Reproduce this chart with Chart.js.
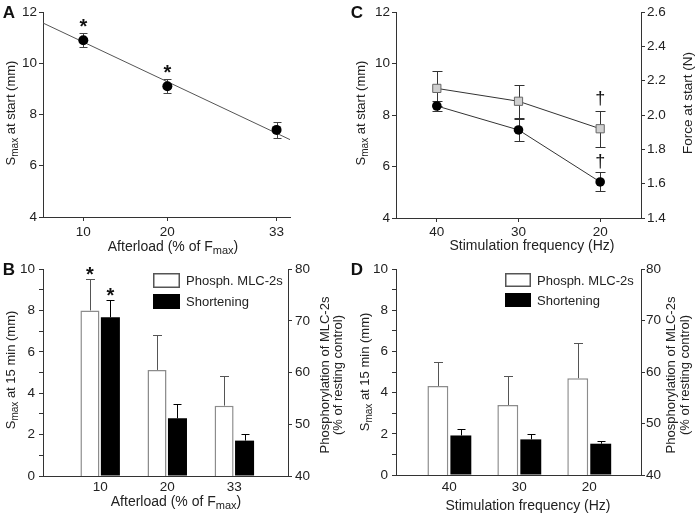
<!DOCTYPE html>
<html>
<head>
<meta charset="utf-8">
<script src="https://cdn.jsdelivr.net/npm/chart.js@4.4.0/dist/chart.umd.min.js"></script>
<style>
html, body { margin: 0; padding: 0; background: #fff; }
#fig { position: relative; width: 697px; height: 515px; overflow: hidden; }
canvas { position: absolute; }
</style>
</head>
<body>
<div id="fig">
  <canvas id="panelA" width="348" height="257" style="left:0;top:0"></canvas>
  <canvas id="panelC" width="349" height="257" style="left:348px;top:0"></canvas>
  <canvas id="panelB" width="348" height="258" style="left:0;top:257px"></canvas>
  <canvas id="panelD" width="349" height="258" style="left:348px;top:257px"></canvas>
</div>
<script>
// ---- data ----
// A: Smax at start vs afterload
var afterload = [10, 20, 33]
var smaxStart = [10.9, 9.1, 7.4]
var smaxStartErr = [0.27, 0.28, 0.3]
var smaxStartMarks = ['*', '*', null]
var fitX = [5.2, 34.6]
var fitY = [11.57, 7.02]

// B: after 15 min, by afterload
var afterloadLabels = ['10', '20', '33']
var phosphAfterload = [72.0, 60.5, 53.6]
var phosphAfterloadErr = [6.1, 6.7, 5.7]
var phosphAfterloadMarks = ['*', null, null]
var shortAfterload = [7.67, 2.79, 1.71]
var shortAfterloadErr = [0.86, 0.67, 0.3]
var shortAfterloadMarks = ['*', null, null]

// C: start values by stimulation frequency
var freqLabels = ['40', '30', '20']
var smaxFreq = [8.35, 7.42, 5.4]
var smaxFreqErr = [0.2, 0.43, 0.37]
var forceFreq = [2.155, 2.08, 1.92]
var forceFreqErr = [0.1, 0.095, 0.105]
var freqMarks = [null, null, '\u2020']

// D: after 15 min, by stimulation frequency
var phosphFreq = [57.3, 53.6, 58.8]
var phosphFreqErr = [4.6, 5.7, 6.8]
var shortFreq = [1.92, 1.73, 1.52]
var shortFreqErr = [0.32, 0.27, 0.14]

// tick values
var startTicks = [4, 6, 8, 10, 12]
var forceTicks = [1.4, 1.6, 1.8, 2.0, 2.2, 2.4, 2.6]
var smax15Ticks = [0, 1, 2, 3, 4, 5, 6, 7, 8, 9, 10]
var phosphTicks = [40, 50, 60, 70, 80]

var FONT = "'Liberation Sans', Arial, Helvetica, sans-serif"
var INK = '#222'

Chart.defaults.font.family = FONT
Chart.defaults.font.size = 13.5
Chart.defaults.color = INK

// ---- helpers ----
function fixSize(w, h) {
    return function (scale) {
        if (w != null) scale.width = w
        if (h != null) scale.height = h
    }
}

function useTicks(values) {
    return function (scale) {
        scale.ticks = values.map(function (v) { return { value: v } })
    }
}

function axis(extra) {
    var base = {
        grid: { display: true, drawOnChartArea: false, drawTicks: true, tickLength: 4, color: '#333', lineWidth: 1 },
        border: { display: true, color: '#333', width: 1 },
        ticks: { padding: 2, autoSkip: false, maxRotation: 0 }
    }
    for (var k in extra) {
        if (k === 'grid' || k === 'ticks' || k === 'border') Object.assign(base[k], extra[k])
        else base[k] = extra[k]
    }
    return base
}

function valueOf(d) {
    return (d !== null && typeof d === 'object') ? d.y : d
}

function drawRich(ctx, parts, cx, cy, rot, size) {
    size = size || 13.5
    var sub = Math.round(size * 0.75)
    ctx.save()
    ctx.translate(cx, cy)
    if (rot) ctx.rotate(-Math.PI / 2)
    ctx.fillStyle = INK
    ctx.textAlign = 'left'
    ctx.textBaseline = 'alphabetic'
    var total = 0
    parts.forEach(function (p) {
        ctx.font = (p[1] ? sub : size) + 'px ' + FONT
        total += ctx.measureText(p[0]).width
    })
    var x = -total / 2
    parts.forEach(function (p) {
        ctx.font = (p[1] ? sub : size) + 'px ' + FONT
        ctx.fillText(p[0], x, p[1] ? 8 : 5)
        x += ctx.measureText(p[0]).width
    })
    ctx.restore()
}

function drawCentered(ctx, s, font, x, y) {
    ctx.save()
    ctx.font = font
    ctx.fillStyle = '#111'
    ctx.textAlign = 'center'
    ctx.textBaseline = 'alphabetic'
    var m = ctx.measureText(s)
    ctx.fillText(s, x, y + (m.actualBoundingBoxAscent - m.actualBoundingBoxDescent) / 2)
    ctx.restore()
}

// error bars, significance marks, titles, legend, panel letter
var panelDeco = {
    id: 'panelDeco',
    beforeDatasetsDraw: function (chart) {
        var ctx = chart.ctx
        chart.data.datasets.forEach(function (ds, i) {
            if (!ds.errors) return
            var meta = chart.getDatasetMeta(i)
            var ys = chart.scales[meta.yAxisID]
            ctx.save()
            ctx.strokeStyle = ds.errColor || '#333'
            ctx.lineWidth = 1
            meta.data.forEach(function (el, j) {
                var v = valueOf(ds.data[j])
                var top = Math.round(ys.getPixelForValue(v + ds.errors[j])) + 0.5
                var bot = ds.errBoth ? Math.round(ys.getPixelForValue(v - ds.errors[j])) + 0.5 : ys.getPixelForValue(v)
                var x = Math.round(el.x) + 0.5
                ctx.beginPath()
                ctx.moveTo(x, bot)
                ctx.lineTo(x, top)
                ctx.moveTo(x - ds.capHalf, top)
                ctx.lineTo(x + ds.capHalf, top)
                if (ds.errBoth) {
                    ctx.moveTo(x - ds.capHalf, bot)
                    ctx.lineTo(x + ds.capHalf, bot)
                }
                ctx.stroke()
            })
            ctx.restore()
        })
    },
    afterDraw: function (chart, args, opts) {
        var ctx = chart.ctx
        chart.data.datasets.forEach(function (ds, i) {
            if (!ds.marks) return
            var meta = chart.getDatasetMeta(i)
            var ys = chart.scales[meta.yAxisID]
            meta.data.forEach(function (el, j) {
                if (!ds.marks[j]) return
                var top = ys.getPixelForValue(valueOf(ds.data[j]) + ds.errors[j])
                drawCentered(ctx, ds.marks[j], ds.markFont, el.x, top - ds.markGap)
            })
        })
        ;(opts.texts || []).forEach(function (t) {
            drawRich(ctx, t.parts, t.x, t.y, t.rot, t.size)
        })
        if (opts.legend) {
            var lg = opts.legend
            lg.items.forEach(function (it, k) {
                var y = lg.y + k * lg.step
                ctx.save()
                if (it.filled) {
                    ctx.fillStyle = '#000'
                    ctx.fillRect(lg.x, y, lg.w, lg.h)
                } else {
                    ctx.strokeStyle = '#555'
                    ctx.lineWidth = 1.5
                    ctx.strokeRect(lg.x + 0.75, y + 0.75, lg.w - 1.5, lg.h - 1.5)
                }
                ctx.font = '13px ' + FONT
                ctx.fillStyle = INK
                ctx.textBaseline = 'middle'
                ctx.textAlign = 'left'
                ctx.fillText(it.text, lg.x + lg.w + 6, y + lg.h / 2 + 1)
                ctx.restore()
            })
        }
        if (opts.letter) {
            drawCentered(ctx, opts.letter[0], 'bold 17px ' + FONT, opts.letter[1], opts.letter[2])
        }
    }
}

var SMAX = [['S'], ['max', true]]
var AFTERLOAD_TITLE = [['Afterload (% of F'], ['max', true], [')']]

function baseOptions(padding, deco) {
    return {
        responsive: false,
        animation: false,
        devicePixelRatio: 1,
        layout: { padding: padding },
        plugins: { legend: { display: false }, tooltip: { enabled: false }, panelDeco: deco },
        events: []
    }
}

// ---- A ----
var optsA = baseOptions({ top: 12, right: 58, left: 0, bottom: 0 }, {
    letter: ['A', 9, 12],
    texts: [
        { parts: SMAX.concat([[' at start (mm)']]), x: 10, y: 113, rot: true, size: 13 },
        { parts: AFTERLOAD_TITLE, x: 173, y: 246, size: 14 }
    ]
})
optsA.scales = {
    x: axis({ type: 'linear', min: 5.2, max: 34.6, afterBuildTicks: useTicks(afterload), afterFit: fixSize(null, 40), ticks: { padding: 3 } }),
    y: axis({ type: 'linear', min: 4, max: 12, afterBuildTicks: useTicks(startTicks), afterFit: fixSize(43, null) })
}
new Chart('panelA', {
    type: 'scatter',
    data: {
        datasets: [{
            data: afterload.map(function (x, i) { return { x: x, y: smaxStart[i] } }),
            backgroundColor: '#000', borderColor: '#000', pointRadius: 5, pointBorderWidth: 0,
            errors: smaxStartErr, errBoth: true, capHalf: 4, errColor: '#444',
            marks: smaxStartMarks, markGap: 10, markFont: 'bold 20px ' + FONT
        }, {
            data: fitX.map(function (x, i) { return { x: x, y: fitY[i] } }),
            showLine: true, borderColor: '#555', borderWidth: 1, pointRadius: 0
        }]
    },
    options: optsA,
    plugins: [panelDeco]
})

// ---- C ----
var optsC = baseOptions({ top: 12, right: 0, left: 0, bottom: 0 }, {
    letter: ['C', 9, 12],
    texts: [
        { parts: SMAX.concat([[' at start (mm)']]), x: 12, y: 113, rot: true, size: 13 },
        { parts: [['Stimulation frequency (Hz)']], x: 184, y: 245, size: 14 },
        { parts: [['Force at start (N)']], x: 339, y: 103, rot: true, size: 13.5 }
    ]
})
optsC.scales = {
    x: axis({ type: 'category', offset: true, afterFit: fixSize(null, 39), ticks: { padding: 2 } }),
    y: axis({ type: 'linear', position: 'left', min: 4, max: 12, afterBuildTicks: useTicks(startTicks), afterFit: fixSize(48, null) }),
    y1: axis({
        type: 'linear', position: 'right', min: 1.4, max: 2.6, afterBuildTicks: useTicks(forceTicks), afterFit: fixSize(56, null),
        ticks: { padding: 2, callback: function (v) { return Number(v).toFixed(1) } }
    })
}
new Chart('panelC', {
    type: 'line',
    data: {
        labels: freqLabels,
        datasets: [{
            data: smaxFreq, yAxisID: 'y',
            borderColor: '#333', borderWidth: 1, backgroundColor: '#000',
            pointRadius: 4.8, pointBorderColor: '#000', pointBorderWidth: 0,
            errors: smaxFreqErr, errBoth: true, capHalf: 5, errColor: '#333',
            marks: freqMarks, markGap: 11, markFont: '18px ' + FONT
        }, {
            data: forceFreq, yAxisID: 'y1',
            borderColor: '#333', borderWidth: 1, backgroundColor: '#cfcfcf',
            pointStyle: 'rect', pointRadius: 5.8, pointBorderColor: '#666', pointBorderWidth: 1,
            errors: forceFreqErr, errBoth: true, capHalf: 5, errColor: '#333',
            marks: freqMarks, markGap: 12, markFont: '18px ' + FONT
        }]
    },
    options: optsC,
    plugins: [panelDeco]
})

// ---- bar panels (B, D) ----
function barPanel(id, cfg) {
    var opts = baseOptions(cfg.padding, cfg.deco)
    opts.scales = {
        x: axis({
            type: 'linear', offset: false, min: cfg.xMin, max: cfg.xMax,
            afterBuildTicks: useTicks([1, 2, 3]), afterFit: fixSize(null, cfg.xHeight),
            grid: { drawTicks: false }, ticks: { padding: cfg.xPad, callback: function (v) { return cfg.labels[v - 1] } }
        }),
        y: axis({
            type: 'linear', position: 'left', min: 0, max: 10, afterBuildTicks: useTicks(smax15Ticks), afterFit: fixSize(cfg.yWidth, null),
            ticks: { padding: 4, callback: function (v) { return v % 2 === 0 ? v : '' } }
        }),
        y1: axis({
            type: 'linear', position: 'right', min: 40, max: 80, beginAtZero: false, afterBuildTicks: useTicks(phosphTicks), afterFit: fixSize(cfg.y1Width, null),
            ticks: { padding: cfg.y1Pad }
        })
    }
    return new Chart(id, {
        type: 'bar',
        data: {
            datasets: [{
                data: cfg.phosph.map(function (v, i) { return { x: i + 1, y: v } }), yAxisID: 'y1',
                backgroundColor: '#fff', borderColor: '#8c8c8c', borderWidth: 1.5,
                categoryPercentage: cfg.catPct, barPercentage: cfg.barPct,
                errors: cfg.phosphErr, errBoth: false, capHalf: 4.5, errColor: '#555',
                marks: cfg.phosphMarks, markGap: 8, markFont: 'bold 20px ' + FONT
            }, {
                data: cfg.shortening.map(function (v, i) { return { x: i + 1, y: v } }), yAxisID: 'y',
                backgroundColor: '#000', borderWidth: 0,
                categoryPercentage: cfg.catPct, barPercentage: cfg.barPct,
                errors: cfg.shortErr, errBoth: false, capHalf: 4, errColor: '#000',
                marks: cfg.shortMarks, markGap: 8, markFont: 'bold 20px ' + FONT
            }]
        },
        options: opts,
        plugins: [panelDeco]
    })
}

var phosphTitle = [['Phosphorylation of MLC-2s']]
var phosphTitle2 = [['(% of resting control)']]
var legendItems = [{ text: 'Phosph. MLC-2s', filled: false }, { text: 'Shortening', filled: true }]

barPanel('panelB', {
    padding: { top: 12, right: 0, left: 0, bottom: 0 },
    xMin: 0.148, xMax: 3.8, xHeight: 39, xPad: 3, yWidth: 43, y1Width: 60, y1Pad: 3,
    labels: afterloadLabels, catPct: 0.61, barPct: 0.93,
    phosph: phosphAfterload, phosphErr: phosphAfterloadErr, phosphMarks: phosphAfterloadMarks,
    shortening: shortAfterload, shortErr: shortAfterloadErr, shortMarks: shortAfterloadMarks,
    deco: {
        letter: ['B', 9, 12],
        texts: [
            { parts: SMAX.concat([[' at 15 min (mm)']]), x: 10, y: 113, rot: true, size: 13 },
            { parts: AFTERLOAD_TITLE, x: 176, y: 244, size: 14 },
            { parts: phosphTitle, x: 324, y: 118, rot: true, size: 13 },
            { parts: phosphTitle2, x: 337, y: 118, rot: true, size: 13 }
        ],
        legend: { x: 153, y: 16, w: 27, h: 15, step: 21, items: legendItems }
    }
})

barPanel('panelD', {
    padding: { top: 10, right: 0, left: 0, bottom: 0 },
    xMin: 0.237, xMax: 3.74, xHeight: 40, xPad: 4, yWidth: 48, y1Width: 56, y1Pad: 1,
    labels: freqLabels, catPct: 0.657, barPct: 0.91,
    phosph: phosphFreq, phosphErr: phosphFreqErr, phosphMarks: null,
    shortening: shortFreq, shortErr: shortFreqErr, shortMarks: null,
    deco: {
        letter: ['D', 9, 12],
        texts: [
            { parts: SMAX.concat([[' at 15 min (mm)']]), x: 16, y: 115, rot: true, size: 13 },
            { parts: [['Stimulation frequency (Hz)']], x: 180, y: 248, size: 14 },
            { parts: phosphTitle, x: 322, y: 118, rot: true, size: 13 },
            { parts: phosphTitle2, x: 336, y: 118, rot: true, size: 13 }
        ],
        legend: { x: 157, y: 16, w: 26, h: 14, step: 20, items: legendItems }
    }
})
</script>
</body>
</html>
